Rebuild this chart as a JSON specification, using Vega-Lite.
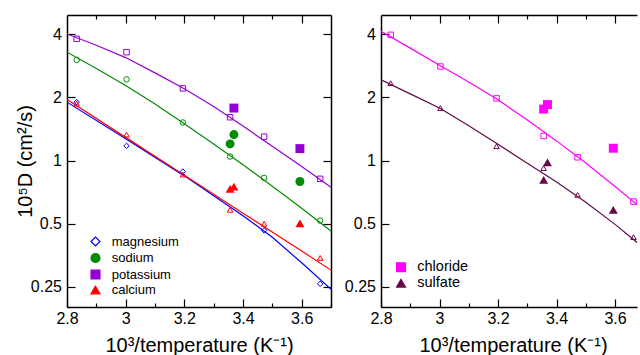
{
  "$schema": "https://vega.github.io/schema/vega-lite/v6.json",
  "autosize": {"type": "pad"},
  "padding": {"left": 15, "top": 14, "right": 0, "bottom": 0},
  "background": "white",
  "config": {
    "font": "Liberation Sans",
    "view": {"stroke": null},
    "axis": {"grid": false, "domain": true, "domainColor": "black", "domainWidth": 1.5, "tickColor": "black", "tickWidth": 1.2, "labelFontSize": 16, "labelColor": "black", "labelFont": "Liberation Sans", "titleFont": "Liberation Sans", "titleFontSize": 20, "titleFontWeight": "normal", "titleColor": "black", "labelFlush": false, "labelOverlap": false, "labelBound": false}
  },
  "datasets": {
    "left": [
      {"kind": "fit", "ion": "potassium", "x": 2.8, "D": 4.02},
      {"kind": "fit", "ion": "potassium", "x": 2.9, "D": 3.55},
      {"kind": "fit", "ion": "potassium", "x": 3.0, "D": 3.10},
      {"kind": "fit", "ion": "potassium", "x": 3.1, "D": 2.62},
      {"kind": "fit", "ion": "potassium", "x": 3.2, "D": 2.2},
      {"kind": "fit", "ion": "potassium", "x": 3.3, "D": 1.81},
      {"kind": "fit", "ion": "potassium", "x": 3.4, "D": 1.46},
      {"kind": "fit", "ion": "potassium", "x": 3.5, "D": 1.17},
      {"kind": "fit", "ion": "potassium", "x": 3.6, "D": 0.937},
      {"kind": "fit", "ion": "potassium", "x": 3.7, "D": 0.746},
      {"kind": "fit", "ion": "sodium", "x": 2.8, "D": 3.29},
      {"kind": "fit", "ion": "sodium", "x": 2.9, "D": 2.75},
      {"kind": "fit", "ion": "sodium", "x": 3.0, "D": 2.28},
      {"kind": "fit", "ion": "sodium", "x": 3.1, "D": 1.86},
      {"kind": "fit", "ion": "sodium", "x": 3.2, "D": 1.50},
      {"kind": "fit", "ion": "sodium", "x": 3.3, "D": 1.20},
      {"kind": "fit", "ion": "sodium", "x": 3.4, "D": 0.954},
      {"kind": "fit", "ion": "sodium", "x": 3.5, "D": 0.754},
      {"kind": "fit", "ion": "sodium", "x": 3.6, "D": 0.592},
      {"kind": "fit", "ion": "sodium", "x": 3.7, "D": 0.461},
      {"kind": "fit", "ion": "magnesium", "x": 2.8, "D": 1.90},
      {"kind": "fit", "ion": "magnesium", "x": 3.0, "D": 1.27},
      {"kind": "fit", "ion": "magnesium", "x": 3.2, "D": 0.845},
      {"kind": "fit", "ion": "magnesium", "x": 3.3, "D": 0.68},
      {"kind": "fit", "ion": "magnesium", "x": 3.4, "D": 0.545},
      {"kind": "fit", "ion": "magnesium", "x": 3.5, "D": 0.43},
      {"kind": "fit", "ion": "magnesium", "x": 3.6, "D": 0.325},
      {"kind": "fit", "ion": "magnesium", "x": 3.7, "D": 0.243},
      {"kind": "fit", "ion": "calcium", "x": 2.8, "D": 1.955},
      {"kind": "fit", "ion": "calcium", "x": 3.0, "D": 1.29},
      {"kind": "fit", "ion": "calcium", "x": 3.2, "D": 0.851},
      {"kind": "fit", "ion": "calcium", "x": 3.4, "D": 0.561},
      {"kind": "fit", "ion": "calcium", "x": 3.6, "D": 0.370},
      {"kind": "fit", "ion": "calcium", "x": 3.7, "D": 0.300},
      {"kind": "sim", "ion": "potassium", "x": 2.833, "D": 3.81},
      {"kind": "sim", "ion": "potassium", "x": 3.003, "D": 3.29},
      {"kind": "sim", "ion": "potassium", "x": 3.195, "D": 2.21},
      {"kind": "sim", "ion": "potassium", "x": 3.356, "D": 1.61},
      {"kind": "sim", "ion": "potassium", "x": 3.472, "D": 1.30},
      {"kind": "sim", "ion": "potassium", "x": 3.663, "D": 0.818},
      {"kind": "sim", "ion": "sodium", "x": 2.833, "D": 3.02},
      {"kind": "sim", "ion": "sodium", "x": 3.003, "D": 2.44},
      {"kind": "sim", "ion": "sodium", "x": 3.195, "D": 1.52},
      {"kind": "sim", "ion": "sodium", "x": 3.356, "D": 1.045},
      {"kind": "sim", "ion": "sodium", "x": 3.472, "D": 0.827},
      {"kind": "sim", "ion": "sodium", "x": 3.663, "D": 0.517},
      {"kind": "sim", "ion": "magnesium", "x": 2.833, "D": 1.90},
      {"kind": "sim", "ion": "magnesium", "x": 3.003, "D": 1.175},
      {"kind": "sim", "ion": "magnesium", "x": 3.195, "D": 0.886},
      {"kind": "sim", "ion": "magnesium", "x": 3.472, "D": 0.464},
      {"kind": "sim", "ion": "magnesium", "x": 3.663, "D": 0.258},
      {"kind": "sim", "ion": "calcium", "x": 2.833, "D": 1.87},
      {"kind": "sim", "ion": "calcium", "x": 3.003, "D": 1.33},
      {"kind": "sim", "ion": "calcium", "x": 3.195, "D": 0.857},
      {"kind": "sim", "ion": "calcium", "x": 3.356, "D": 0.582},
      {"kind": "sim", "ion": "calcium", "x": 3.472, "D": 0.499},
      {"kind": "sim", "ion": "calcium", "x": 3.663, "D": 0.343},
      {"kind": "exp", "ion": "potassium", "x": 3.369, "D": 1.78},
      {"kind": "exp", "ion": "potassium", "x": 3.594, "D": 1.14},
      {"kind": "exp", "ion": "sodium", "x": 3.356, "D": 1.20},
      {"kind": "exp", "ion": "sodium", "x": 3.369, "D": 1.33},
      {"kind": "exp", "ion": "sodium", "x": 3.594, "D": 0.794},
      {"kind": "exp", "ion": "calcium", "x": 3.356, "D": 0.733},
      {"kind": "exp", "ion": "calcium", "x": 3.369, "D": 0.751},
      {"kind": "exp", "ion": "calcium", "x": 3.594, "D": 0.502}
    ],
    "right": [
      {"kind": "fit", "ion": "chloride", "x": 2.8, "D": 4.14},
      {"kind": "fit", "ion": "chloride", "x": 2.9, "D": 3.44},
      {"kind": "fit", "ion": "chloride", "x": 3.0, "D": 2.85},
      {"kind": "fit", "ion": "chloride", "x": 3.1, "D": 2.37},
      {"kind": "fit", "ion": "chloride", "x": 3.2, "D": 1.95},
      {"kind": "fit", "ion": "chloride", "x": 3.3, "D": 1.56},
      {"kind": "fit", "ion": "chloride", "x": 3.4, "D": 1.241},
      {"kind": "fit", "ion": "chloride", "x": 3.5, "D": 0.974},
      {"kind": "fit", "ion": "chloride", "x": 3.6, "D": 0.752},
      {"kind": "fit", "ion": "chloride", "x": 3.7, "D": 0.578},
      {"kind": "fit", "ion": "sulfate", "x": 2.8, "D": 2.43},
      {"kind": "fit", "ion": "sulfate", "x": 2.9, "D": 2.08},
      {"kind": "fit", "ion": "sulfate", "x": 3.0, "D": 1.78},
      {"kind": "fit", "ion": "sulfate", "x": 3.1, "D": 1.466},
      {"kind": "fit", "ion": "sulfate", "x": 3.2, "D": 1.195},
      {"kind": "fit", "ion": "sulfate", "x": 3.3, "D": 0.971},
      {"kind": "fit", "ion": "sulfate", "x": 3.4, "D": 0.79},
      {"kind": "fit", "ion": "sulfate", "x": 3.5, "D": 0.632},
      {"kind": "fit", "ion": "sulfate", "x": 3.6, "D": 0.496},
      {"kind": "fit", "ion": "sulfate", "x": 3.7, "D": 0.381},
      {"kind": "sim", "ion": "chloride", "x": 2.833, "D": 3.98},
      {"kind": "sim", "ion": "chloride", "x": 3.003, "D": 2.81},
      {"kind": "sim", "ion": "chloride", "x": 3.195, "D": 1.98},
      {"kind": "sim", "ion": "chloride", "x": 3.356, "D": 1.31},
      {"kind": "sim", "ion": "chloride", "x": 3.472, "D": 1.036},
      {"kind": "sim", "ion": "chloride", "x": 3.663, "D": 0.637},
      {"kind": "sim", "ion": "sulfate", "x": 2.833, "D": 2.34},
      {"kind": "sim", "ion": "sulfate", "x": 3.003, "D": 1.78},
      {"kind": "sim", "ion": "sulfate", "x": 3.195, "D": 1.17},
      {"kind": "sim", "ion": "sulfate", "x": 3.356, "D": 0.92},
      {"kind": "sim", "ion": "sulfate", "x": 3.472, "D": 0.686},
      {"kind": "sim", "ion": "sulfate", "x": 3.663, "D": 0.431},
      {"kind": "exp", "ion": "chloride", "x": 3.356, "D": 1.76},
      {"kind": "exp", "ion": "chloride", "x": 3.369, "D": 1.85},
      {"kind": "exp", "ion": "chloride", "x": 3.594, "D": 1.145},
      {"kind": "exp", "ion": "sulfate", "x": 3.356, "D": 0.809},
      {"kind": "exp", "ion": "sulfate", "x": 3.369, "D": 0.981},
      {"kind": "exp", "ion": "sulfate", "x": 3.594, "D": 0.582}
    ]
  },
  "spacing": 50,
  "bounds": "flush",
  "resolve": {"scale": {"x": "independent", "y": "independent", "color": "independent", "stroke": "independent", "shape": "independent"}, "legend": {"shape": "independent", "color": "independent", "stroke": "independent"}},
  "hconcat": [
    {
      "width": 264, "height": 292,
      "data": {"name": "left"},
      "resolve": {"axis": {"x": "independent", "y": "independent"}},
      "layer": [
        {
          "transform": [{"filter": "datum.kind === 'fit'"}],
          "mark": {"type": "line", "strokeWidth": 1.2, "clip": true, "opacity": 1},
          "encoding": {
            "x": {"field": "x", "type": "quantitative", "scale": {"domain": [2.8, 3.7], "nice": false, "zero": false},
              "axis": {"orient": "bottom", "values": [2.8, 2.9, 3, 3.1, 3.2, 3.3, 3.4, 3.5, 3.6, 3.7], "format": "~g", "labelExpr": "round(datum.value*10) % 2 === 0 ? datum.label : ''", "tickSize": {"expr": "round(datum.value*10) % 2 === 0 ? -8 : -4"}, "labelPadding": 11.5, "title": "10³/temperature (K⁻¹)", "titleBaseline": "alphabetic", "titlePadding": 21}},
            "y": {"field": "D", "type": "quantitative", "scale": {"type": "log", "domain": [0.2, 4.95], "nice": false},
              "axis": {"orient": "left", "values": [0.25, 0.5, 1, 2, 4], "format": "~g", "tickSize": -8, "labelPadding": 13.5, "title": "10⁵D (cm²/s)", "titleBaseline": "alphabetic", "titlePadding": -1}},
            "stroke": {"field": "ion", "type": "nominal", "scale": {"domain": ["magnesium", "sodium", "potassium", "calcium"], "range": ["#0000ff", "#008b00", "#9400d3", "#ff0000"]},
              "legend": {"orient": "none", "legendX": 22, "legendY": 220, "title": null, "padding": 0, "symbolSize": 80, "symbolStrokeWidth": 1.2, "symbolOpacity": 1, "symbolFillColor": "black", "symbolStrokeColor": "black", "labelFontSize": 13, "labelFont": "Liberation Sans", "labelColor": "black", "labelOffset": 9.7, "rowPadding": 1.5}}
          }
        },
        {
          "transform": [{"filter": "datum.kind === 'sim'"}],
          "mark": {"type": "point", "filled": false, "size": 30, "strokeWidth": 1, "opacity": 1},
          "encoding": {
            "x": {"field": "x", "type": "quantitative", "scale": {"domain": [2.8, 3.7], "nice": false, "zero": false},
              "axis": {"orient": "top", "values": [2.9, 3, 3.1, 3.2, 3.3, 3.4, 3.5, 3.6], "labels": false, "tickSize": {"expr": "round(datum.value*10) % 2 === 0 ? -8 : -4"}, "title": null}},
            "y": {"field": "D", "type": "quantitative", "scale": {"type": "log", "domain": [0.2, 4.95], "nice": false},
              "axis": {"orient": "right", "values": [0.25, 0.5, 1, 2, 4], "labels": false, "tickSize": -8, "title": null}},
            "stroke": {"field": "ion", "type": "nominal", "scale": {"domain": ["magnesium", "sodium", "potassium", "calcium"], "range": ["#0000ff", "#008b00", "#9400d3", "#ff0000"]},
              "legend": {"orient": "none", "legendX": 22, "legendY": 220, "title": null, "padding": 0, "symbolSize": 80, "symbolStrokeWidth": 1.2, "symbolOpacity": 1, "symbolFillColor": "black", "symbolStrokeColor": "black", "labelFontSize": 13, "labelFont": "Liberation Sans", "labelColor": "black", "labelOffset": 9.7, "rowPadding": 1.5}},
            "shape": {"field": "ion", "type": "nominal", "scale": {"domain": ["magnesium", "sodium", "potassium", "calcium"], "range": ["diamond", "circle", "square", "triangle-up"]},
              "legend": {"orient": "none", "legendX": 22, "legendY": 220, "title": null, "padding": 0, "symbolSize": 80, "symbolStrokeWidth": 1.2, "symbolOpacity": 1, "symbolFillColor": "black", "symbolStrokeColor": "black", "labelFontSize": 13, "labelFont": "Liberation Sans", "labelColor": "black", "labelOffset": 9.7, "rowPadding": 1.5}}
          }
        },
        {
          "transform": [{"filter": "datum.kind === 'exp'"}],
          "mark": {"type": "point", "filled": true, "size": 80, "strokeWidth": 0, "opacity": 1},
          "encoding": {
            "x": {"field": "x", "type": "quantitative", "scale": {"domain": [2.8, 3.7], "nice": false, "zero": false}, "axis": null},
            "y": {"field": "D", "type": "quantitative", "scale": {"type": "log", "domain": [0.2, 4.95], "nice": false}, "axis": null},
            "color": {"field": "ion", "type": "nominal", "scale": {"domain": ["magnesium", "sodium", "potassium", "calcium"], "range": ["transparent", "#008b00", "#9400d3", "#ff0000"]},
              "legend": {"orient": "none", "legendX": 22, "legendY": 220, "title": null, "padding": 0, "symbolSize": 80, "symbolStrokeWidth": 1.2, "symbolOpacity": 1, "symbolFillColor": "black", "symbolStrokeColor": "black", "labelFontSize": 13, "labelFont": "Liberation Sans", "labelColor": "black", "labelOffset": 9.7, "rowPadding": 1.5}},
            "stroke": {"field": "ion", "type": "nominal", "scale": {"domain": ["magnesium", "sodium", "potassium", "calcium"], "range": ["#0000ff", "#008b00", "#9400d3", "#ff0000"]},
              "legend": {"orient": "none", "legendX": 22, "legendY": 220, "title": null, "padding": 0, "symbolSize": 80, "symbolStrokeWidth": 1.2, "symbolOpacity": 1, "symbolFillColor": "black", "symbolStrokeColor": "black", "labelFontSize": 13, "labelFont": "Liberation Sans", "labelColor": "black", "labelOffset": 9.7, "rowPadding": 1.5}},
            "shape": {"field": "ion", "type": "nominal", "scale": {"domain": ["magnesium", "sodium", "potassium", "calcium"], "range": ["diamond", "circle", "square", "triangle-up"]},
              "legend": {"orient": "none", "legendX": 22, "legendY": 220, "title": null, "padding": 0, "symbolSize": 80, "symbolStrokeWidth": 1.2, "symbolOpacity": 1, "symbolFillColor": "black", "symbolStrokeColor": "black", "labelFontSize": 13, "labelFont": "Liberation Sans", "labelColor": "black", "labelOffset": 9.7, "rowPadding": 1.5}}
          }
        }
      ]
    },
    {
      "width": 256, "height": 292,
      "data": {"name": "right"},
      "resolve": {"axis": {"x": "independent", "y": "independent"}},
      "layer": [
        {
          "transform": [{"filter": "datum.kind === 'fit'"}],
          "mark": {"type": "line", "strokeWidth": 1.2, "clip": true, "opacity": 1},
          "encoding": {
            "x": {"field": "x", "type": "quantitative", "scale": {"domain": [2.8, 3.675], "nice": false, "zero": false},
              "axis": {"orient": "bottom", "values": [2.8, 2.9, 3, 3.1, 3.2, 3.3, 3.4, 3.5, 3.6], "format": "~g", "labelExpr": "round(datum.value*10) % 2 === 0 ? datum.label : ''", "tickSize": {"expr": "round(datum.value*10) % 2 === 0 ? -8 : -4"}, "labelPadding": 11.5, "title": "10³/temperature (K⁻¹)", "titleBaseline": "alphabetic", "titlePadding": 21, "titleX": 132}},
            "y": {"field": "D", "type": "quantitative", "scale": {"type": "log", "domain": [0.2, 4.95], "nice": false},
              "axis": {"orient": "left", "values": [0.25, 0.5, 1, 2, 4], "format": "~g", "tickSize": -8, "labelPadding": 13.5, "title": null}},
            "stroke": {"field": "ion", "type": "nominal", "scale": {"domain": ["chloride", "sulfate"], "range": ["#ff00ff", "#670748"]},
              "legend": {"orient": "none", "legendX": 12.8, "legendY": 245, "title": null, "padding": 0, "symbolSize": 80, "symbolStrokeWidth": 1.2, "symbolOpacity": 1, "symbolFillColor": "black", "symbolStrokeColor": "black", "labelFontSize": 14.5, "labelFont": "Liberation Sans", "labelColor": "black", "labelOffset": 9, "rowPadding": 0}}
          }
        },
        {
          "transform": [{"filter": "datum.kind === 'sim'"}],
          "mark": {"type": "point", "filled": false, "size": 30, "strokeWidth": 1, "opacity": 1},
          "encoding": {
            "x": {"field": "x", "type": "quantitative", "scale": {"domain": [2.8, 3.675], "nice": false, "zero": false},
              "axis": {"orient": "top", "values": [2.9, 3, 3.1, 3.2, 3.3, 3.4, 3.5, 3.6], "labels": false, "tickSize": {"expr": "round(datum.value*10) % 2 === 0 ? -8 : -4"}, "title": null}},
            "y": {"field": "D", "type": "quantitative", "scale": {"type": "log", "domain": [0.2, 4.95], "nice": false}, "axis": null},
            "stroke": {"field": "ion", "type": "nominal", "scale": {"domain": ["chloride", "sulfate"], "range": ["#ff00ff", "#670748"]},
              "legend": {"orient": "none", "legendX": 12.8, "legendY": 245, "title": null, "padding": 0, "symbolSize": 80, "symbolStrokeWidth": 1.2, "symbolOpacity": 1, "symbolFillColor": "black", "symbolStrokeColor": "black", "labelFontSize": 14.5, "labelFont": "Liberation Sans", "labelColor": "black", "labelOffset": 9, "rowPadding": 0}},
            "shape": {"field": "ion", "type": "nominal", "scale": {"domain": ["chloride", "sulfate"], "range": ["square", "triangle-up"]},
              "legend": {"orient": "none", "legendX": 12.8, "legendY": 245, "title": null, "padding": 0, "symbolSize": 80, "symbolStrokeWidth": 1.2, "symbolOpacity": 1, "symbolFillColor": "black", "symbolStrokeColor": "black", "labelFontSize": 14.5, "labelFont": "Liberation Sans", "labelColor": "black", "labelOffset": 9, "rowPadding": 0}}
          }
        },
        {
          "transform": [{"filter": "datum.kind === 'exp'"}],
          "mark": {"type": "point", "filled": true, "size": 80, "strokeWidth": 0, "opacity": 1},
          "encoding": {
            "x": {"field": "x", "type": "quantitative", "scale": {"domain": [2.8, 3.675], "nice": false, "zero": false}, "axis": null},
            "y": {"field": "D", "type": "quantitative", "scale": {"type": "log", "domain": [0.2, 4.95], "nice": false}, "axis": null},
            "color": {"field": "ion", "type": "nominal", "scale": {"domain": ["chloride", "sulfate"], "range": ["#ff00ff", "#670748"]},
              "legend": {"orient": "none", "legendX": 12.8, "legendY": 245, "title": null, "padding": 0, "symbolSize": 80, "symbolStrokeWidth": 1.2, "symbolOpacity": 1, "symbolFillColor": "black", "symbolStrokeColor": "black", "labelFontSize": 14.5, "labelFont": "Liberation Sans", "labelColor": "black", "labelOffset": 9, "rowPadding": 0}},
            "stroke": {"field": "ion", "type": "nominal", "scale": {"domain": ["chloride", "sulfate"], "range": ["#ff00ff", "#670748"]},
              "legend": {"orient": "none", "legendX": 12.8, "legendY": 245, "title": null, "padding": 0, "symbolSize": 80, "symbolStrokeWidth": 1.2, "symbolOpacity": 1, "symbolFillColor": "black", "symbolStrokeColor": "black", "labelFontSize": 14.5, "labelFont": "Liberation Sans", "labelColor": "black", "labelOffset": 9, "rowPadding": 0}},
            "shape": {"field": "ion", "type": "nominal", "scale": {"domain": ["chloride", "sulfate"], "range": ["square", "triangle-up"]},
              "legend": {"orient": "none", "legendX": 12.8, "legendY": 245, "title": null, "padding": 0, "symbolSize": 80, "symbolStrokeWidth": 1.2, "symbolOpacity": 1, "symbolFillColor": "black", "symbolStrokeColor": "black", "labelFontSize": 14.5, "labelFont": "Liberation Sans", "labelColor": "black", "labelOffset": 9, "rowPadding": 0}}
          }
        }
      ]
    }
  ]
}
